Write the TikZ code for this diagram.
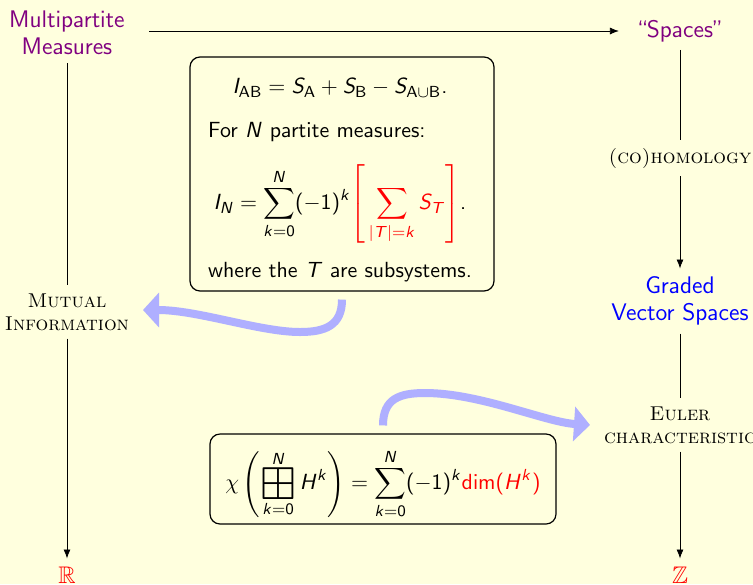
\documentclass[tikz,border=0pt,12pt]{standalone}
\usepackage[OT1]{fontenc}
\renewcommand{\rmdefault}{cmr}
\renewcommand{\sfdefault}{cmss}
\usepackage{amssymb}
\usepackage{graphicx}
\usepackage{sansmath}
\usetikzlibrary{arrows.meta}

\definecolor{slidebg}{RGB}{255,255,222}
\definecolor{headpurple}{RGB}{128,0,128}
\definecolor{flowblue}{RGB}{175,175,255}

\tikzset{
  heading/.style={align=center},
  scword/.style={align=center, font=\rmfamily\scshape\fontsize{9.6}{11.5}\selectfont},
  boxtext/.style={font=\sffamily\fontsize{11}{13}\selectfont\sansmath},
  formbox/.style={draw, rounded corners=5pt, line width=0.6pt},
  thin arrow/.style={-{Latex[length=4.5pt,width=3.5pt]}},
  flow/.style={flowblue, line width=4pt, -{Triangle[length=8pt,width=17pt]}},
}
\newcommand{\bigboxsum}{\mathop{\vcenter{\hbox{\scalebox{2.1}{$\boxplus$}}}}\limits}

\begin{document}
\begin{tikzpicture}[x=0.5pt, y=-0.5pt, font=\sffamily\fontsize{12}{13.6}\selectfont\sansmath]
  \fill[slidebg] (0,0) rectangle (753,584);
  \useasboundingbox (0,0) rectangle (753,584);
  % left column
  \node[heading, text=headpurple] (mm) at (67,33) {Multipartite\\Measures};
  \node[scword] (mi) at (67,312) {Mutual\\Information};
  \node[text=red] (rr) at (67,575) {$\mathbb{R}$};
  % right column
  \node[heading, text=headpurple] (sp) at (680,31) {``Spaces''};
  \node[scword] (co) at (680,158) {(co)homology};
  \node[heading, text=blue] (gv) at (680,301) {Graded\\Vector Spaces};
  \node[scword] (eu) at (680,425) {Euler\\characteristic};
  \node[text=red] (zz) at (680,575) {$\mathbb{Z}$};
  % first box
  \node[formbox, minimum width=152pt, minimum height=117pt] (box1) at (342,174) {};
  \node[boxtext] (eqab) at (340,88) {$I_{\mathsf{AB}} = S_{\mathsf{A}} + S_{\mathsf{B}} - S_{\mathsf{A}\cup\mathsf{B}}.$};
  \node[boxtext, anchor=west] (fornp) at (200,132) {For $N$ partite measures:};
  \node[boxtext] (eqin) at (340,204) {$\displaystyle I_N = \sum_{k=0}^{N}(-1)^k {\color{red}\left[\,\sum_{|T|=k} S_T\right]}.$};
  \node[boxtext, anchor=west] (where) at (200,272) {where the $T$ are subsystems.};
  % second box
  \node[formbox, minimum width=173pt, minimum height=45pt] (box2) at (383,479) {};
  \node[boxtext] (eqchi) at (383,484) {$\displaystyle \chi\left(\bigboxsum_{k=0}^{N} H^k\right) = \sum_{k=0}^{N}(-1)^k {\color{red}\mathsf{dim}(H^k)}$};
  % thin connectors
  \draw[thin arrow, shorten <=8pt, shorten >=4pt] (sp -| mm.east) -- (sp.west);
  \draw (mm) -- (mi);
  \draw[thin arrow] (mi) -- (rr);
  \draw (sp) -- (co);
  \draw[thin arrow] (co) -- (gv);
  \draw (gv) -- (eu);
  \draw[thin arrow] (eu) -- (zz);
  % thick blue arrows
  \coordinate (mitip) at (143,310);
  \coordinate (eutip) at (590,425);
  \draw[flow] ([yshift=-4pt]box1.south) .. controls +(0,26) and +(25,0) .. (300,332)
    .. controls +(-40,0) and +(55,0) .. (mitip);
  \draw[flow] ([yshift=4pt]box2.north) .. controls +(0,-27) and +(-25,0) .. (425,393)
    .. controls +(55,0) and +(-45,-3) .. (eutip);
\end{tikzpicture}
\end{document}
